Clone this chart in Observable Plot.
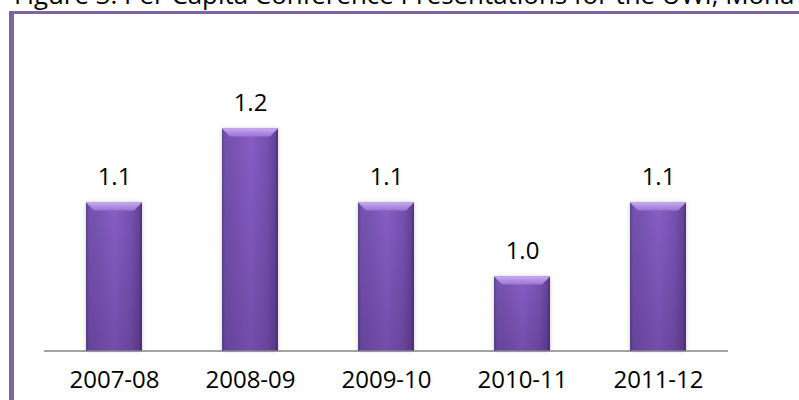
<!DOCTYPE html>
<html>
<head>
<meta charset="utf-8">
<script src="https://cdn.jsdelivr.net/npm/d3@7"></script>
<script src="https://cdn.jsdelivr.net/npm/@observablehq/plot@0.6"></script>
<style>
  html, body { margin: 0; padding: 0; background: #fff; }
  #wrap { position: relative; width: 799px; height: 400px; overflow: hidden; background: #fff; }
  #title { position: absolute; left: 14px; top: -18px; font-family: "Open Sans", sans-serif; font-size: 25.9px; line-height: 25.9px; color: #000; white-space: nowrap; }
  #frame { position: absolute; left: 9px; top: 11px; width: 820px; height: 420px; border-left: 5px solid #8064a2; border-top: 3px solid #8064a2; box-sizing: border-box; }
  #chart { position: absolute; left: 0; top: 0; }
  #chart svg { font-family: "Open Sans", sans-serif; }
</style>
</head>
<body>
<div id="wrap">
  <div id="title">Figure 3: Per Capita Conference Presentations for the UWI, Mona</div>
  <div id="frame"></div>
  <div id="chart"></div>
</div>
<script>
const seasons = ["2007-08", "2008-09", "2009-10", "2010-11", "2011-12"];
const perCapita = [1.1, 1.2, 1.1, 1.0, 1.1];
const axisMin = 0.9;
const axisMax = 1.3;

const data = seasons.map((s, i) => ({season: s, value: perCapita[i]}));
const fmt = d3.format(".1f");

const chart = Plot.plot({
  width: 799,
  height: 400,
  marginLeft: 44,
  marginRight: 71,
  marginTop: 54.5,
  marginBottom: 49.5,
  style: {background: "transparent", fontFamily: "Open Sans, sans-serif"},
  x: {domain: seasons, paddingInner: 0.59, paddingOuter: 0.295, axis: null},
  y: {domain: [axisMin, axisMax], axis: null},
  marks: [
    Plot.ruleY([axisMin], {stroke: "#a3a3a3", strokeWidth: 2}),
    Plot.barY(data, {x: "season", y1: () => axisMin, y2: "value", fill: "url(#barGrad)"}),
    Plot.text(data, {x: "season", y: "value", text: d => fmt(d.value), dy: -26, fontSize: 24, fill: "#000"}),
    Plot.text(data, {x: "season", frameAnchor: "bottom", text: "season", dy: 37, fontSize: 24, fill: "#000"})
  ]
});

document.getElementById("chart").appendChild(chart);

// gradients for the bevelled bar look
const svg = d3.select(chart);
const defs = svg.insert("defs", ":first-child");
const g1 = defs.append("linearGradient").attr("id", "barGrad").attr("x1", 0).attr("x2", 1).attr("y1", 0).attr("y2", 0);
[[0, "#5c4090"], [0.05, "#7452ad"], [0.3, "#7d57b8"], [0.5, "#885dc5"], [0.8, "#7852b2"], [0.95, "#654592"], [1, "#4a3270"]]
  .forEach(([o, c]) => g1.append("stop").attr("offset", o).attr("stop-color", c));
const g2 = defs.append("linearGradient").attr("id", "shade").attr("x1", 0).attr("x2", 0).attr("y1", 0).attr("y2", 1);
[[0, "rgba(40,15,70,0)"], [1, "rgba(40,15,70,0.2)"]]
  .forEach(([o, c]) => g2.append("stop").attr("offset", o).attr("stop-color", c));
const g3 = defs.append("linearGradient").attr("id", "bevel").attr("x1", 0).attr("x2", 0).attr("y1", 0).attr("y2", 1);
[[0, "#c9abf2"], [0.5, "#b18ce3"], [1, "#9a76d2"]]
  .forEach(([o, c]) => g3.append("stop").attr("offset", o).attr("stop-color", c));

svg.selectAll('g[aria-label="bar"] rect').each(function () {
  const r = d3.select(this);
  const x = +r.attr("x"), y = +r.attr("y"), w = +r.attr("width"), h = +r.attr("height");
  r.style("filter", "drop-shadow(0 0 2px rgba(0,0,0,0.2))");
  const parent = d3.select(this.parentNode);
  parent.append("rect").attr("x", x).attr("y", y).attr("width", w).attr("height", h).attr("fill", "url(#shade)");
  const b = 8;
  parent.append("polygon")
    .attr("points", [[x, y], [x + w, y], [x + w - b, y + b], [x + b, y + b]].map(p => p.join(",")).join(" "))
    .attr("fill", "url(#bevel)");
});
</script>
</body>
</html>
